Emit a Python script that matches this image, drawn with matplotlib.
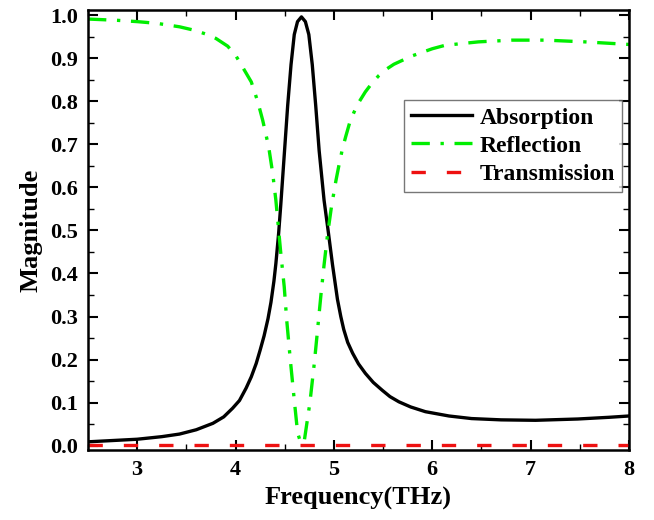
import matplotlib
matplotlib.use("Agg")
import matplotlib.pyplot as plt
import numpy as np
from matplotlib.ticker import MultipleLocator

plt.rcParams['font.family'] = ['Liberation Serif', 'DejaVu Serif']
plt.rcParams['font.weight'] = 'bold'

abs_x = [2.5, 2.75, 3.0, 3.25, 3.43, 3.6, 3.77, 3.88, 3.97, 4.04, 4.108, 4.16, 4.21, 4.25,
         4.29, 4.33, 4.36, 4.39, 4.41, 4.438, 4.46, 4.495, 4.53, 4.564, 4.597, 4.63, 4.67,
         4.71, 4.745, 4.78, 4.815, 4.85, 4.90, 4.945, 4.986, 5.036, 5.07, 5.10, 5.14, 5.19,
         5.25, 5.32, 5.40, 5.49, 5.57, 5.66, 5.78, 5.93, 6.17, 6.4, 6.7, 7.05, 7.48, 7.8, 8.0]
abs_y = [0.009, 0.012, 0.015, 0.021, 0.027, 0.037, 0.052, 0.067, 0.087, 0.105, 0.134, 0.160,
         0.191, 0.222, 0.255, 0.295, 0.333, 0.382, 0.423, 0.493, 0.560, 0.675, 0.790, 0.885,
         0.955, 0.985, 0.996, 0.985, 0.955, 0.885, 0.790, 0.685, 0.570, 0.493, 0.420, 0.340,
         0.300, 0.270, 0.240, 0.215, 0.190, 0.168, 0.147, 0.129, 0.114, 0.102, 0.090, 0.079,
         0.069, 0.063, 0.060, 0.059, 0.062, 0.066, 0.069]

ref_x = [2.5, 2.8, 3.0, 3.2, 3.43, 3.58, 3.70, 3.80, 3.92, 4.0, 4.07, 4.16, 4.226, 4.276,
         4.337, 4.378, 4.41, 4.438, 4.46, 4.495, 4.52, 4.557, 4.597, 4.631, 4.665, 4.70,
         4.756, 4.80, 4.83, 4.868, 4.90, 4.935, 4.975, 5.02, 5.05, 5.087, 5.12, 5.16, 5.205,
         5.26, 5.32, 5.39, 5.458, 5.53, 5.61, 5.79, 6.0, 6.13, 6.47, 6.81, 7.15, 7.55, 8.0]
ref_y = [0.991, 0.988, 0.985, 0.981, 0.973, 0.965, 0.956, 0.946, 0.928, 0.907, 0.880, 0.845,
         0.799, 0.756, 0.694, 0.632, 0.570, 0.501, 0.447, 0.369, 0.292, 0.199, 0.106, 0.030,
         0.005, 0.013, 0.100, 0.190, 0.260, 0.350, 0.420, 0.490, 0.555, 0.615, 0.650, 0.690,
         0.718, 0.750, 0.775, 0.800, 0.822, 0.843, 0.860, 0.874, 0.886, 0.905, 0.922, 0.930,
         0.938, 0.942, 0.942, 0.938, 0.932]

tra_x = [2.5, 4.0, 5.0, 6.0, 7.0, 8.0]
tra_y = [0.002, 0.002, 0.002, 0.002, 0.002, 0.002]

fig = plt.figure(figsize=(6.54, 5.2), dpi=100)
ax = fig.add_axes([88/654, 1-450/520, (629-88)/654, (450-10)/520])

ax.plot(abs_x, abs_y, color='black', lw=2.4, label='Absorption')
ax.plot(ref_x, ref_y, color='#00ee00', lw=2.4, linestyle=(0, (5.5, 3.2, 1, 3.2)), label='Reflection')
ax.plot(tra_x, tra_y, color='#ee1111', lw=2.4, linestyle=(0, (4.3, 6.3)), label='Transmission')

ax.set_xlim(2.5, 8)
ax.set_ylim(-0.01, 1.012)
ax.xaxis.set_major_locator(MultipleLocator(1))
ax.xaxis.set_minor_locator(MultipleLocator(0.5))
ax.yaxis.set_minor_locator(MultipleLocator(0.05))
yt = np.arange(0, 1.01, 0.1)
ax.set_yticks(yt)
ax.set_yticklabels(['%.1f' % v for v in yt])

ax.tick_params(which='major', direction='in', length=7, width=1.5, labelsize=16,
               top=True, right=True, pad=7)
ax.tick_params(which='minor', direction='in', length=4, width=1.0, top=True, right=True)
for s in ax.spines.values():
    s.set_linewidth(1.8)

ax.set_xlabel('Frequency(THz)', fontsize=19, fontweight='bold', labelpad=5)
ax.set_ylabel('Magnitude', fontsize=19, fontweight='bold', labelpad=6)

leg = ax.legend(loc='upper left', bbox_to_anchor=((404-88)/541, 1-(100-10)/440),
                frameon=True, fancybox=False, fontsize=17, handlelength=2.6,
                handletextpad=0.3, borderpad=0.3, labelspacing=0.28, borderaxespad=0)
leg.get_frame().set_edgecolor('#555555')
leg.get_frame().set_linewidth(1.0)
for t in leg.get_texts():
    t.set_fontweight('bold')

fig.savefig('out.png', dpi=100)
